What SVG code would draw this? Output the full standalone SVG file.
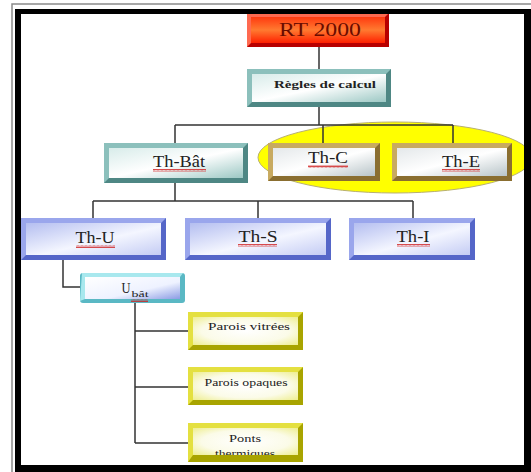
<svg xmlns="http://www.w3.org/2000/svg" width="531" height="472" viewBox="0 0 531 472">
<style>
.t{font-family:"Liberation Serif","Times New Roman",serif;text-anchor:middle;fill:#222}
.c{fill:none;stroke:#333;stroke-width:1.5}
.red-o{fill:#b80000}.red-l{fill:#ff6a50}
.teal-o{fill:#4e8784}.teal-l{fill:#8cc0bc}
.gold-o{fill:#8a6e30}.gold-l{fill:#c8aa60}
.blue-o{fill:#5566c8}.blue-l{fill:#9aa6ec}
.cyan-o{fill:#5ab8c4}.cyan-l{fill:#a8e8ee}
.yel-o{fill:#a8a400}.yel-l{fill:#e4e040}
</style>
<defs>
<linearGradient id="gRed" x1="0" y1="0" x2="0" y2="1"><stop offset="0" stop-color="#ff3a10"/><stop offset="0.5" stop-color="#ff7a30"/><stop offset="1" stop-color="#ff2000"/></linearGradient>
<linearGradient id="gTeal" x1="0" y1="0" x2="1" y2="1"><stop offset="0" stop-color="#d8ecea"/><stop offset="0.5" stop-color="#ffffff"/><stop offset="1" stop-color="#9cc8c4"/></linearGradient>
<linearGradient id="gGold" x1="0" y1="0" x2="1" y2="1"><stop offset="0" stop-color="#e4e8ea"/><stop offset="0.5" stop-color="#ffffff"/><stop offset="1" stop-color="#b8c4c8"/></linearGradient>
<linearGradient id="gBlue" x1="0" y1="0" x2="1" y2="1"><stop offset="0" stop-color="#b4bef0"/><stop offset="0.55" stop-color="#f4f6ff"/><stop offset="1" stop-color="#c4ccf4"/></linearGradient>
<linearGradient id="gCyan" x1="0" y1="0" x2="1" y2="1"><stop offset="0" stop-color="#ffffff"/><stop offset="0.6" stop-color="#eef2ff"/><stop offset="1" stop-color="#8c9ce4"/></linearGradient>
<radialGradient id="gYel" cx="0.5" cy="0.5" r="0.7"><stop offset="0" stop-color="#ffffff"/><stop offset="0.6" stop-color="#fbfbe8"/><stop offset="1" stop-color="#eeee90"/></radialGradient>
<pattern id="wavy" width="4" height="3" patternUnits="userSpaceOnUse"><polyline points="0,2.5 1,0.5 2,2.5 3,0.5 4,2.5" fill="none" stroke="#d02020" stroke-width="0.8"/></pattern>
<clipPath id="pontsClip"><rect x="193" y="428" width="105" height="27"/></clipPath>
</defs>

<rect x="0" y="0" width="531" height="472" fill="#ffffff"/>

<ellipse id="highlight" cx="395" cy="157.5" rx="137" ry="35.5" fill="#ffff00" stroke="#b8b070" stroke-width="1"/>

<g id="connectors">
<path class="c" d="M319,47 V69"/>
<path class="c" d="M319,107 V125 M175,125 H453 M175,125 V143 M323,125 V143 M453,125 V143"/>
<path class="c" d="M175,183 V201 M93,201 H413 M93,201 V218 M258,201 V218 M413,201 V218"/>
<path class="c" d="M63,260 V287 H80"/>
<path class="c" d="M135,303 V443 M135,331 H188 M135,387 H188 M135,443 H188"/>
</g>

<g id="rt2000">
<rect class="red-o" x="247" y="13" width="142" height="34"/>
<polygon class="red-l" points="247,13 389,13 385,17 251,17 251,43 247,47"/>
<rect x="251" y="17" width="134" height="26" fill="url(#gRed)"/>
<text class="t" x="320" y="36" font-size="18" textLength="82" lengthAdjust="spacingAndGlyphs" style="fill:#6a0c00">RT 2000</text>
</g>

<g id="regles">
<rect class="teal-o" x="247" y="69" width="144" height="38"/>
<polygon class="teal-l" points="247,69 391,69 386,74 252,74 252,102 247,107"/>
<rect x="252" y="74" width="134" height="28" fill="url(#gTeal)"/>
<text class="t" x="325" y="88" font-size="11" font-weight="bold" textLength="102" lengthAdjust="spacingAndGlyphs">Règles de calcul</text>
</g>

<g id="thbat">
<rect class="teal-o" x="104" y="143" width="144" height="40"/>
<polygon class="teal-l" points="104,143 248,143 243,148 109,148 109,178 104,183"/>
<rect x="109" y="148" width="134" height="30" fill="url(#gTeal)"/>
<text class="t" x="179" y="167" font-size="16" textLength="52" lengthAdjust="spacingAndGlyphs">Th-Bât</text>
<rect x="153" y="169" width="53" height="3" fill="url(#wavy)"/>
</g>

<g id="thc">
<rect class="gold-o" x="268" y="143" width="112" height="38"/>
<polygon class="gold-l" points="268,143 380,143 375,148 273,148 273,176 268,181"/>
<rect x="273" y="148" width="102" height="28" fill="url(#gGold)"/>
<text class="t" x="328" y="163" font-size="16" textLength="40" lengthAdjust="spacingAndGlyphs">Th-C</text>
<rect x="308" y="165" width="40" height="3" fill="url(#wavy)"/>
</g>

<g id="the">
<rect class="gold-o" x="392" y="143" width="120" height="38"/>
<polygon class="gold-l" points="392,143 512,143 507,148 397,148 397,176 392,181"/>
<rect x="397" y="148" width="110" height="28" fill="url(#gGold)"/>
<text class="t" x="461" y="167" font-size="16" textLength="38" lengthAdjust="spacingAndGlyphs">Th-E</text>
<rect x="442" y="169" width="38" height="3" fill="url(#wavy)"/>
</g>

<g id="thu">
<rect class="blue-o" x="21" y="218" width="145" height="42"/>
<polygon class="blue-l" points="21,218 166,218 161,223 26,223 26,255 21,260"/>
<rect x="26" y="223" width="135" height="32" fill="url(#gBlue)"/>
<text class="t" x="95" y="243" font-size="16" textLength="39" lengthAdjust="spacingAndGlyphs">Th-U</text>
<rect x="76" y="245" width="39" height="3" fill="url(#wavy)"/>
</g>

<g id="ths">
<rect class="blue-o" x="185" y="218" width="146" height="42"/>
<polygon class="blue-l" points="185,218 331,218 326,223 190,223 190,255 185,260"/>
<rect x="190" y="223" width="136" height="32" fill="url(#gBlue)"/>
<text class="t" x="258" y="242" font-size="16" textLength="39" lengthAdjust="spacingAndGlyphs">Th-S</text>
<rect x="238" y="244" width="39" height="3" fill="url(#wavy)"/>
</g>

<g id="thi">
<rect class="blue-o" x="349" y="218" width="126" height="42"/>
<polygon class="blue-l" points="349,218 475,218 470,223 354,223 354,255 349,260"/>
<rect x="354" y="223" width="116" height="32" fill="url(#gBlue)"/>
<text class="t" x="413" y="242" font-size="16" textLength="33" lengthAdjust="spacingAndGlyphs">Th-I</text>
<rect x="397" y="244" width="33" height="3" fill="url(#wavy)"/>
</g>

<g id="ubat">
<rect class="cyan-o" x="80" y="273" width="105" height="30" rx="3"/>
<polygon class="cyan-l" points="82,273 183,273 180,277 85,277 85,299 80,301"/>
<rect x="85" y="277" width="95" height="22" fill="url(#gCyan)"/>
<text class="t" x="126" y="293" font-size="14" textLength="9" lengthAdjust="spacingAndGlyphs">U</text>
<text class="t" x="140" y="297" font-size="9" textLength="17" lengthAdjust="spacingAndGlyphs">bât</text>
<rect x="131" y="299" width="17" height="3" fill="url(#wavy)"/>
</g>

<g id="vitrees">
<rect class="yel-o" x="188" y="312" width="115" height="38"/>
<polygon class="yel-l" points="188,312 303,312 298,317 193,317 193,345 188,350"/>
<rect x="193" y="317" width="105" height="28" fill="url(#gYel)"/>
<text class="t" x="249" y="330" font-size="11" textLength="82" lengthAdjust="spacingAndGlyphs">Parois vitrées</text>
</g>

<g id="opaques">
<rect class="yel-o" x="188" y="367" width="115" height="38"/>
<polygon class="yel-l" points="188,367 303,367 298,372 193,372 193,400 188,405"/>
<rect x="193" y="372" width="105" height="28" fill="url(#gYel)"/>
<text class="t" x="246" y="386" font-size="11" textLength="83" lengthAdjust="spacingAndGlyphs">Parois opaques</text>
</g>

<g id="ponts">
<rect class="yel-o" x="188" y="423" width="115" height="39"/>
<polygon class="yel-l" points="188,423 303,423 298,428 193,428 193,455 188,462"/>
<rect x="193" y="428" width="105" height="27" fill="url(#gYel)"/>
<g clip-path="url(#pontsClip)">
<text class="t" x="245" y="442" font-size="11" textLength="32" lengthAdjust="spacingAndGlyphs">Ponts</text>
<text class="t" x="245" y="457" font-size="11" textLength="60" lengthAdjust="spacingAndGlyphs">thermiques</text>
</g>
</g>

<g id="frame">
<path d="M12,472 V4 H531" fill="none" stroke="#8a8a8a" stroke-width="1.5"/>
<path d="M15,9 H531 V472 H15 Z M21,14 V465 H524 V14 Z" fill="#000" fill-rule="evenodd"/>
</g>
</svg>
